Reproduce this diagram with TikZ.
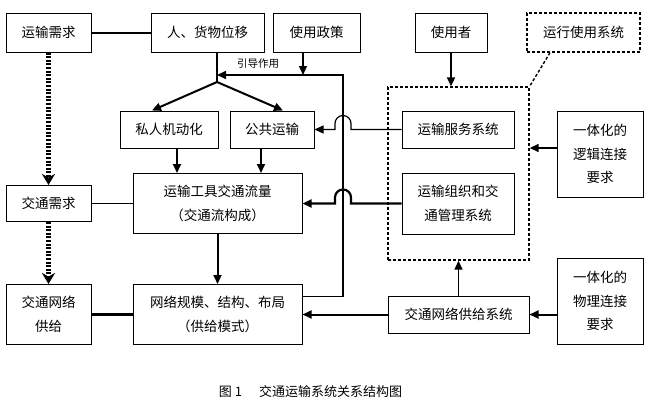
\documentclass[tikz,border=0pt]{standalone}
\usepackage{fontspec}
\setmainfont{Noto Sans CJK SC}
\usetikzlibrary{arrows.meta}

\begin{document}
\begin{tikzpicture}[x=1pt,y=-1pt,line width=1.2pt,>={Triangle[length=9pt,width=8pt]},
box/.style={draw,line width=1pt,align=center,inner sep=0pt,font=\fontsize{13.5}{23.5}\selectfont},
dbox/.style={box,dash pattern=on 3pt off 2pt,line width=1.4pt},
heavy/.style={line width=2pt},
supply/.style={line width=4.5pt,dash pattern=on 2pt off 1.6pt,-{Stealth[length=11pt,width=13pt]}}]
\useasboundingbox (0,0) rectangle (648,410);

\node (dem) at (48.5,32.5) [box,minimum width=85pt,minimum height=39pt] {运输需求};
\node (disp) at (207.5,32.5) [box,minimum width=113pt,minimum height=39pt] {人、货物位移};
\node (policy) at (316.5,32.5) [box,minimum width=87pt,minimum height=39pt] {使用政策};
\node (user) at (451,32.5) [box,minimum width=72pt,minimum height=39pt] {使用者};
\node (ops) at (583.5,32.5) [dbox,minimum width=113pt,minimum height=39pt] {运行使用系统};
\node (priv) at (169,129.5) [box,minimum width=98pt,minimum height=37pt] {私人机动化};
\node (pub) at (272,129.5) [box,minimum width=84pt,minimum height=37pt] {公共运输};
\node (flow) at (217.5,203.5) [box,minimum width=169pt,minimum height=60pt] {运输工具交通流量\\（交通流构成）};
\node (tdem) at (48.5,203.5) [box,minimum width=85pt,minimum height=36pt] {交通需求};
\node (tsup) at (48.5,314.5) [box,minimum width=85pt,minimum height=60pt] {交通网络\\供给};
\node (net) at (217.5,314.5) [box,minimum width=169pt,minimum height=60pt] {网络规模、结构、布局\\（供给模式）};
\node (big) at (458.5,173.5) [dbox,minimum width=141pt,minimum height=173pt] {};
\node (svc) at (458,129.5) [box,minimum width=112pt,minimum height=37pt] {运输服务系统};
\node (mgmt) at (458,203.5) [box,minimum width=112pt,minimum height=61pt] {运输组织和交\\通管理系统};
\node (logic) at (600,154) [box,minimum width=86pt,minimum height=86pt] {一体化的\\逻辑连接\\要求};
\node (nsys) at (458.5,314.5) [box,minimum width=141pt,minimum height=37pt] {交通网络供给系统};
\node (phys) at (600,301) [box,minimum width=86pt,minimum height=86pt] {一体化的\\物理连接\\要求};

\coordinate (split) at (217,82);
\coordinate (guide) at (217,75);
\coordinate (loop) at (343,75);

\draw[heavy] (dem) -- (disp);
\draw[supply] (dem) -- (tdem);
\draw[supply] (tdem) -- (tsup);
\draw (tdem) -- (flow);
\draw[line width=2.5pt] (tsup) -- (net);

\draw ([xshift=9.5pt]disp.south) -- (split);
\draw[heavy,->] (split) -- ([xshift=-17pt]priv.north);
\draw[heavy,->] (split) -- ([xshift=11pt]pub.north);
\draw[->] ([xshift=-13.5pt]policy.south) coordinate (pol) -- (pol |- guide);
\draw[line width=1.6pt,->] ([yshift=18pt]net.east) -| (loop) -- (guide);
\node (lead) at (258,64) [font=\fontsize{10.5}{12}\selectfont] {引导作用};

\draw[heavy,->] ([xshift=8pt]priv.south) coordinate (p1) -- (p1 |- flow.north);
\draw[heavy,->] ([xshift=-11pt]pub.south) coordinate (p2) -- (p2 |- flow.north);
\draw[heavy,->] (flow) -- (net);

\draw[->] (svc.west) -- (351,129.5) -- ++(0,-6) arc[start angle=0,end angle=180,radius=8pt] -- ++(0,6) -- (pub.east);
\draw[line width=2.2pt,->] (mgmt.west) -- (351,203.5) -- ++(0,-6) arc[start angle=0,end angle=180,radius=8pt] -- ++(0,6) -- (flow.east);

\draw[heavy,->] (user) -- (user |- big.north);
\draw[dash pattern=on 3pt off 2pt,line width=1.4pt] ([xshift=-33.5pt]ops.south) -- (big.north east);
\draw[line width=1.6pt,->] ([yshift=6pt]logic.west) coordinate (l1) -- (l1 -| big.east);
\draw[line width=1.6pt,->] (nsys.north) -- (big.south);
\draw[heavy,->] (phys.west |- nsys.east) -- (nsys.east);
\draw[heavy,->] (nsys.west) -- (net.east);

\node (cap) at (215,392) [anchor=west,font=\fontsize{13}{15}\selectfont] {图 1\hspace{17pt}交通运输系统关系结构图};

\end{tikzpicture}
\end{document}
